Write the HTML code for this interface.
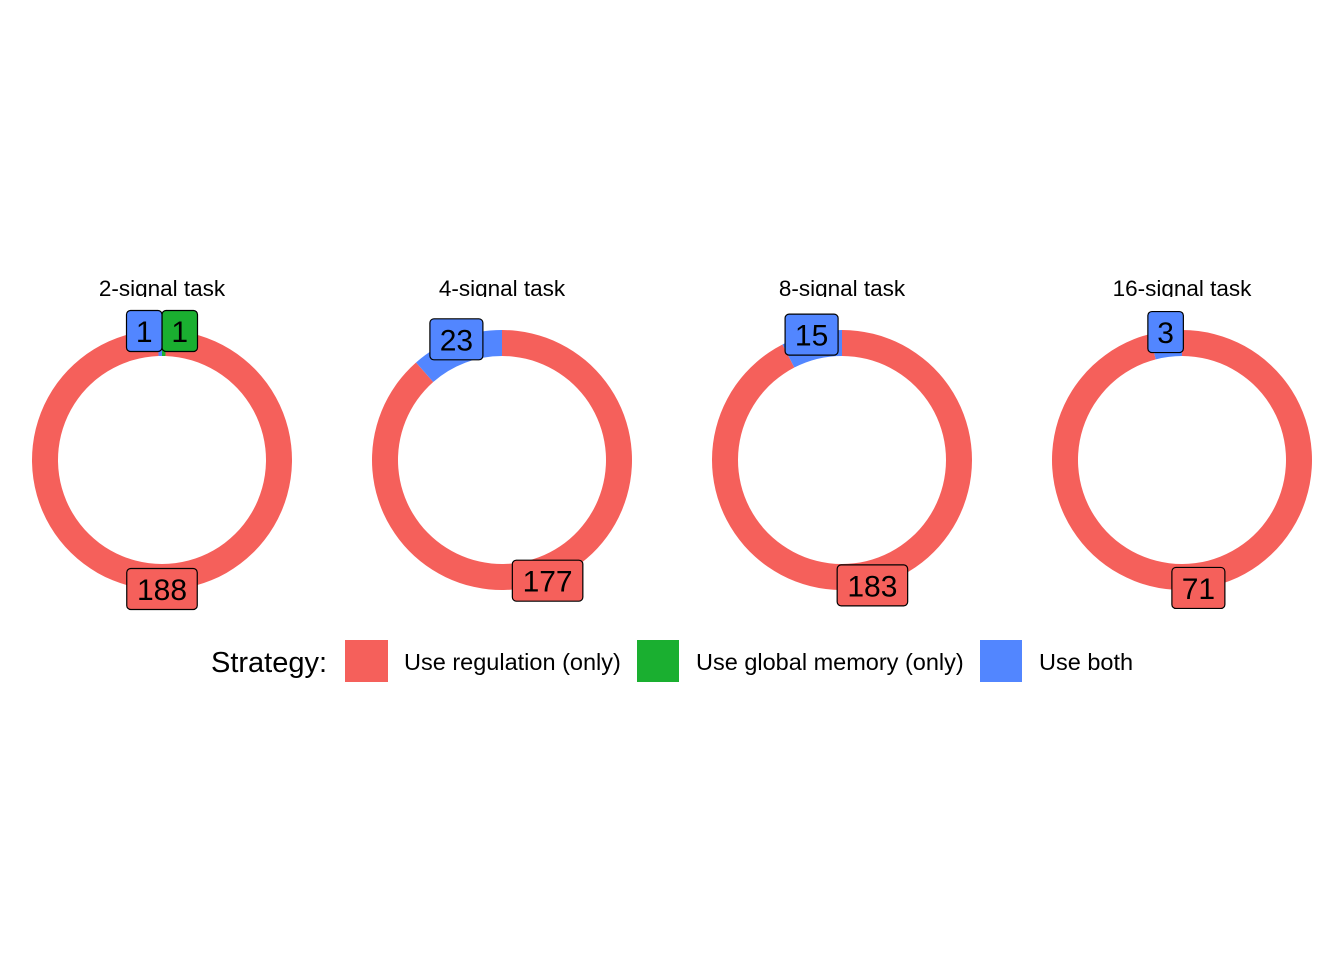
<!DOCTYPE html>
<html><head><meta charset="utf-8">
<style>
html,body{margin:0;padding:0;background:#fff;}
svg{display:block;font-family:"Liberation Sans",Arial,sans-serif;}
</style></head>
<body>
<svg id="chart" width="1344" height="960" viewBox="0 0 1344 960" xmlns="http://www.w3.org/2000/svg">
  <g id="panels"></g>
  <g id="legend">
    <text x="211" y="672" font-size="29" fill="#000">Strategy:</text>
    <rect x="345" y="640" width="43" height="42" fill="#F5605B"/>
    <text x="404" y="670" font-size="23.5" fill="#000">Use regulation (only)</text>
    <rect x="637" y="640" width="42" height="42" fill="#1AAF30"/>
    <text x="696" y="670" font-size="23.5" fill="#000">Use global memory (only)</text>
    <rect x="980" y="640" width="42" height="42" fill="#5286FF"/>
    <text x="1039" y="670" font-size="23.5" fill="#000">Use both</text>
  </g>
</svg>
<script>
const panelTitles = ["2-signal task","4-signal task","8-signal task","16-signal task"];
const regulationCounts = [188, 177, 183, 71];
const globalMemoryCounts = [1, 0, 0, 0];
const bothCounts = [1, 23, 15, 3];
const seriesColors = ["#1AAF30", "#F5605B", "#5286FF"];
const seriesNames = ["global-memory", "regulation", "both"];

const NS = "http://www.w3.org/2000/svg";
const panelsG = document.getElementById("panels");
const cy = 460, rOut = 130, rIn = 104, rLab = 129;
function cx(i){ return 162 + i * 340; }
function pt(x0, ang, r){ return [x0 + r*Math.sin(ang), cy - r*Math.cos(ang)]; }
function arcPath(x0, a0, a1){
  const large = (a1 - a0) > Math.PI ? 1 : 0;
  const p1 = pt(x0,a0,rOut), p2 = pt(x0,a1,rOut), p3 = pt(x0,a1,rIn), p4 = pt(x0,a0,rIn);
  return `M${p1[0]},${p1[1]} A${rOut},${rOut} 0 ${large} 1 ${p2[0]},${p2[1]} L${p3[0]},${p3[1]} A${rIn},${rIn} 0 ${large} 0 ${p4[0]},${p4[1]} Z`;
}
const defs = document.createElementNS(NS, "defs");
panelsG.appendChild(defs);
const labelLayer = [];
panelTitles.forEach((title, i) => {
  const x0 = cx(i);
  const g = document.createElementNS(NS, "g");
  
  
  panelsG.appendChild(g);
  const cp = document.createElementNS(NS, "clipPath");
  cp.setAttribute("id", "clip" + i);
  const cr = document.createElementNS(NS, "rect");
  cr.setAttribute("x", x0 - 170); cr.setAttribute("y", 260); cr.setAttribute("width", 340); cr.setAttribute("height", 37);
  cp.appendChild(cr); defs.appendChild(cp);
  const t = document.createElementNS(NS, "text");
  t.setAttribute("x", x0); t.setAttribute("y", 296); t.setAttribute("text-anchor", "middle");
  t.setAttribute("font-size", "22.5"); t.setAttribute("clip-path", `url(#clip${i})`);
  t.textContent = title;
  
  
  g.appendChild(t);
  const vals = [globalMemoryCounts[i], regulationCounts[i], bothCounts[i]];
  const total = vals.reduce((a,b)=>a+b,0);
  let acc = 0;
  vals.forEach((v, s) => {
    if (v <= 0) return;
    const a0 = acc / total * 2 * Math.PI;
    acc += v;
    const a1 = acc / total * 2 * Math.PI;
    const p = document.createElementNS(NS, "path");
    let d;
    if (a1 - a0 >= 2*Math.PI - 1e-6) {
      d = arcPath(x0, 0, Math.PI) + arcPath(x0, Math.PI, 2*Math.PI - 1e-6);
    } else d = arcPath(x0, a0, a1);
    p.setAttribute("d", d); p.setAttribute("fill", seriesColors[s]);
    
    
    g.appendChild(p);
    const [lx, ly] = pt(x0, (a0+a1)/2, rLab);
    labelLayer.push({g, x0, lx, ly, v, color: seriesColors[s], s, panel: i});
  });
});
// simple repel: compute boxes, push overlapping labels horizontally apart
labelLayer.forEach(L => { L.w = 18 + String(L.v).length * 17.5; L.h = 41; });
for (let it = 0; it < 30; it++) {
  for (let a = 0; a < labelLayer.length; a++) for (let b = a+1; b < labelLayer.length; b++) {
    const A = labelLayer[a], B = labelLayer[b];
    if (A.panel !== B.panel) continue;
    const ox = (A.w + B.w)/2 - Math.abs(A.lx - B.lx);
    const oy = (A.h + B.h)/2 - Math.abs(A.ly - B.ly);
    if (ox > 0 && oy > 0) {
      const dir = (A.lx <= B.lx) ? -1 : 1;
      A.lx += dir * ox * 0.3; B.lx -= dir * ox * 0.3;
    }
  }
}
labelLayer.forEach(L => {
  const txt = String(L.v);
  const lg = document.createElementNS(NS, "g");
  
  
  const r = document.createElementNS(NS, "rect");
  r.setAttribute("x", L.lx - L.w/2); r.setAttribute("y", L.ly - L.h/2);
  r.setAttribute("width", L.w); r.setAttribute("height", L.h);
  r.setAttribute("rx", 4); r.setAttribute("fill", L.color);
  r.setAttribute("stroke", "#000"); r.setAttribute("stroke-width", "1.2");
  lg.appendChild(r);
  const t = document.createElementNS(NS, "text");
  t.setAttribute("x", L.lx); t.setAttribute("y", L.ly + 11);
  t.setAttribute("text-anchor", "middle"); t.setAttribute("font-size", "30");
  t.textContent = txt;
  lg.appendChild(t);
  L.g.appendChild(lg);
});
// draw green label behind blue (reference order): move panel-1 blue label last
</script>
</body></html>
